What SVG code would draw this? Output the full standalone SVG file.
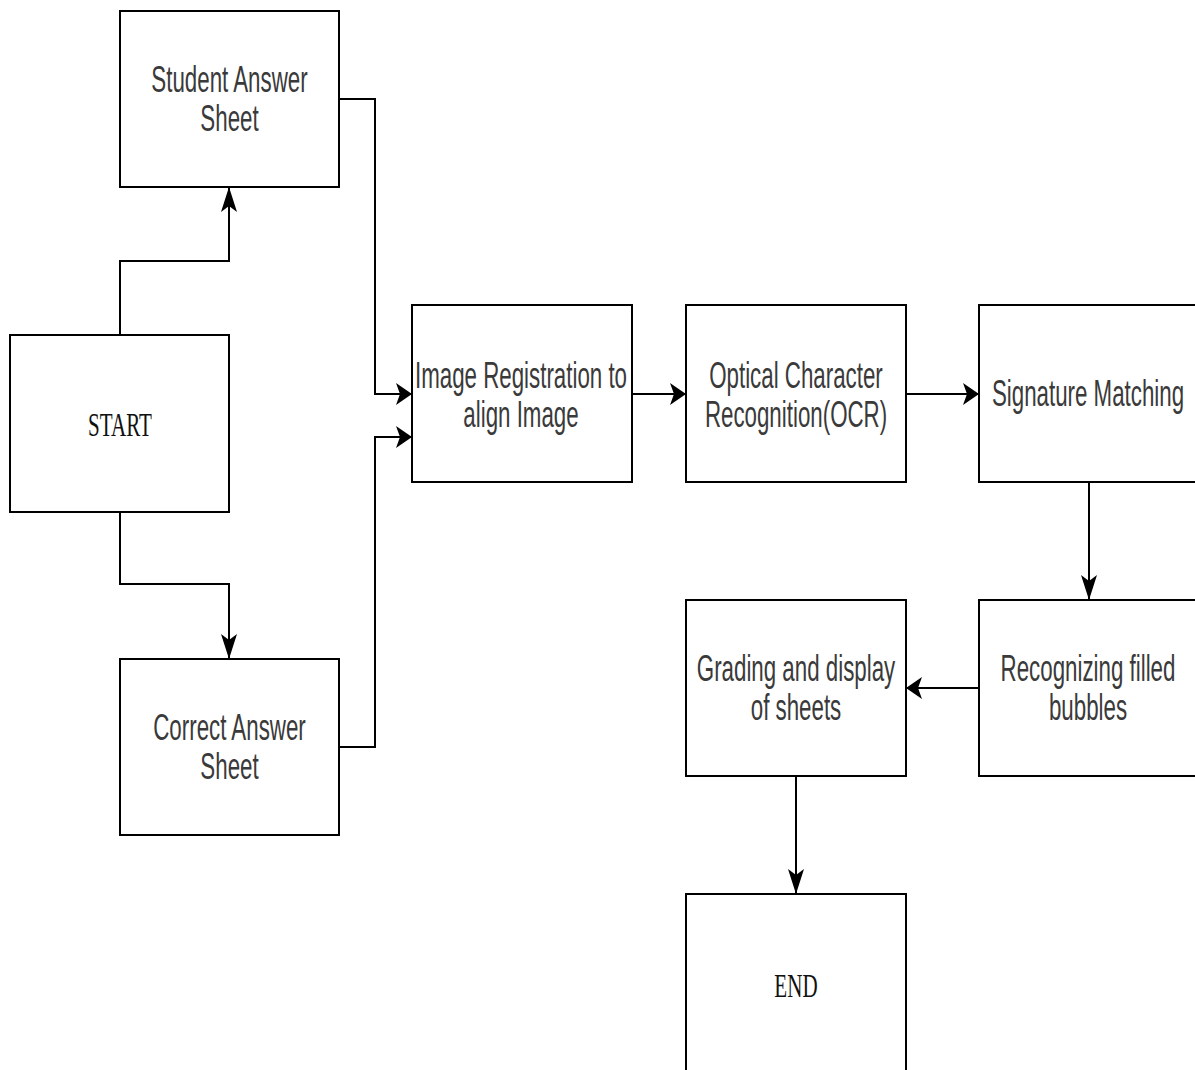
<svg xmlns="http://www.w3.org/2000/svg" width="1195" height="1070" viewBox="0 0 1195 1070">
<style>
.box{fill:#fff;stroke:#000;stroke-width:2}
.t{font-family:"Liberation Sans",Arial,sans-serif;font-size:36px;fill:#3a3a3a;text-anchor:middle}
.s{font-family:"Liberation Serif","Times New Roman",serif;font-size:34px;fill:#111;text-anchor:middle}
.c{fill:none;stroke:#000;stroke-width:2}
</style>
<defs>
<marker id="ah" markerUnits="userSpaceOnUse" markerWidth="16" markerHeight="22" refX="15" refY="11" orient="auto" overflow="visible">
<path d="M0,0 L16,11 L0,22 L4,11 Z" fill="#000"/>
</marker>
<marker id="av" markerUnits="userSpaceOnUse" markerWidth="25" markerHeight="16" refX="24" refY="8" orient="auto" overflow="visible">
<path d="M0,0 L25,8 L0,16 L6,8 Z" fill="#000"/>
</marker>
</defs>
<rect width="1195" height="1070" fill="#fff"/>
<g id="connectors">
<path class="c" d="M120,335 V261 H229 V188" marker-end="url(#av)"/>
<path class="c" d="M120,512 V584 H229 V658" marker-end="url(#av)"/>
<path class="c" d="M339,99 H375 V394 H411" marker-end="url(#ah)"/>
<path class="c" d="M339,747 H375 V437 H411" marker-end="url(#ah)"/>
<path class="c" d="M632,394 H685" marker-end="url(#ah)"/>
<path class="c" d="M906,394 H978" marker-end="url(#ah)"/>
<path class="c" d="M1089,482 V599" marker-end="url(#av)"/>
<path class="c" d="M979,688 H907" marker-end="url(#ah)"/>
<path class="c" d="M796,776 V893" marker-end="url(#av)"/>
</g>
<g id="student">
<rect class="box" x="120" y="11" width="219" height="176"/>
<text class="t" transform="translate(229.5,92) scale(0.62,1)"><tspan x="0" y="0">Student Answer</tspan><tspan x="0" y="39">Sheet</tspan></text>
</g>
<g id="start">
<rect class="box" x="10" y="335" width="219" height="177"/>
<text class="s" transform="translate(120,436) scale(0.62,1)" x="0" y="0">START</text>
</g>
<g id="correct">
<rect class="box" x="120" y="659" width="219" height="176"/>
<text class="t" transform="translate(229.5,740) scale(0.62,1)"><tspan x="0" y="0">Correct Answer</tspan><tspan x="0" y="39">Sheet</tspan></text>
</g>
<g id="imgreg">
<rect class="box" x="412" y="305" width="220" height="177"/>
<text class="t" transform="translate(521,388) scale(0.62,1)"><tspan x="0" y="0">Image Registration to</tspan><tspan x="0" y="39">align Image</tspan></text>
</g>
<g id="ocr">
<rect class="box" x="686" y="305" width="220" height="177"/>
<text class="t" transform="translate(796,388) scale(0.62,1)"><tspan x="0" y="0">Optical Character</tspan><tspan x="0" y="39">Recognition(OCR)</tspan></text>
</g>
<g id="signature">
<rect class="box" x="979" y="305" width="220" height="177"/>
<text class="t" transform="translate(1088,406) scale(0.62,1)" x="0" y="0">Signature Matching</text>
</g>
<g id="bubbles">
<rect class="box" x="979" y="600" width="220" height="176"/>
<text class="t" transform="translate(1088,681) scale(0.62,1)"><tspan x="0" y="0">Recognizing filled</tspan><tspan x="0" y="39">bubbles</tspan></text>
</g>
<g id="grading">
<rect class="box" x="686" y="600" width="220" height="176"/>
<text class="t" transform="translate(796,681) scale(0.62,1)"><tspan x="0" y="0">Grading and display</tspan><tspan x="0" y="39">of sheets</tspan></text>
</g>
<g id="end">
<rect class="box" x="686" y="894" width="220" height="177"/>
<text class="s" transform="translate(796,997) scale(0.62,1)" x="0" y="0">END</text>
</g>
</svg>
